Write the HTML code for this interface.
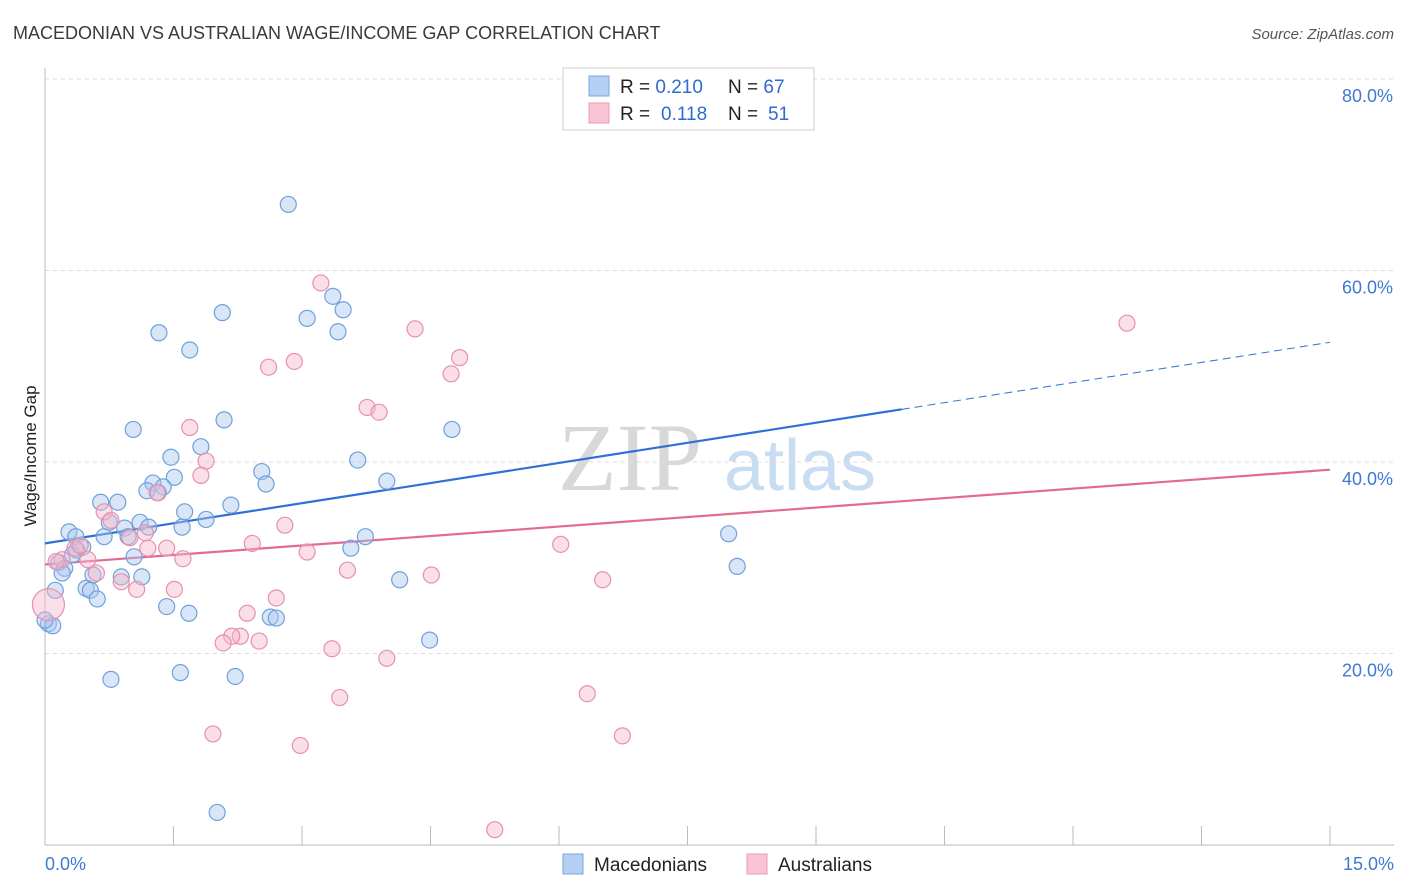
<!DOCTYPE html>
<html><head><meta charset="utf-8"><style>
body{margin:0;background:#fff;font-family:"Liberation Sans",sans-serif}
svg{display:block}
</style></head><body>
<svg id="chart" width="1406" height="892" xmlns="http://www.w3.org/2000/svg">
<text x="13" y="39" font-size="18" fill="#3a3a3a">MACEDONIAN VS AUSTRALIAN WAGE/INCOME GAP CORRELATION CHART</text>
<text x="1394" y="39" font-size="15" fill="#555" font-style="italic" text-anchor="end">Source: ZipAtlas.com</text>
<text x="36" y="456" font-size="17" fill="#222" text-anchor="middle" transform="rotate(-90 36 456)">Wage/Income Gap</text>
<g><text x="630" y="490" font-size="96" font-family="Liberation Serif,serif" fill="#d8d8d8" text-anchor="middle">ZIP</text><text x="800" y="490" font-size="72" fill="#c8dcf2" text-anchor="middle">atlas</text></g>
<g id="grid"></g><g id="axes"></g><g id="lines"></g><g id="pts"></g>
<g>
<rect x="563" y="68" width="251" height="62" fill="#fff" stroke="#ccc"/>
<rect x="589" y="76" width="20" height="20" fill="#b4d0f4" stroke="#7aa6de"/>
<rect x="589" y="103" width="20" height="20" fill="#f9c4d4" stroke="#eb9ab4"/>
<text x="620" y="93" font-size="19" fill="#222">R = <tspan fill="#2e6ad0">0.210</tspan><tspan x="728">N = </tspan><tspan fill="#2e6ad0">67</tspan></text>
<text x="620" y="120" font-size="19" fill="#222">R = <tspan x="661" fill="#2e6ad0">0.118</tspan><tspan x="728">N = </tspan><tspan x="768" fill="#2e6ad0">51</tspan></text>
</g>
<g>
<rect x="563" y="854" width="20" height="20" fill="#b4d0f4" stroke="#7aa6de"/>
<text x="594" y="871" font-size="19" fill="#222">Macedonians</text>
<rect x="747" y="854" width="20" height="20" fill="#f9c4d4" stroke="#eb9ab4"/>
<text x="778" y="871" font-size="19" fill="#222">Australians</text>
</g>
</svg>
<script>
const yTicks=[20,40,60,80];
const yTickLabels=["20.0%","40.0%","60.0%","80.0%"];
const xTickLabels=["0.0%","15.0%"];
const blueX=[2.84,3.36,3.48,3.06,3.42,2.07,1.33,1.69,2.09,1.03,1.82,4.75,1.47,3.65,2.53,3.99,2.58,1.26,1.51,1.38,1.19,1.32,0.65,0.85,2.17,1.63,1.88,1.11,1.60,1.21,0.75,0.93,0.28,0.36,0.69,0.97,0.44,0.37,0.32,3.74,3.57,1.04,0.16,0.23,0.20,0.89,1.13,0.56,4.14,8.08,7.98,0.48,0.53,0.12,0.61,1.42,1.68,2.63,2.70,4.49,0.04,0.09,0.77,1.58,2.22,2.01,0.0];
const blueY=[66.9,57.3,55.9,55.0,53.6,55.6,53.5,51.7,44.4,43.4,41.6,43.4,40.5,40.2,39.0,38.0,37.7,37.8,38.4,37.4,37.0,36.8,35.8,35.8,35.5,34.8,34.0,33.7,33.2,33.2,33.7,33.1,32.7,32.2,32.2,32.2,31.1,30.8,30.3,32.2,31.0,30.1,29.5,28.9,28.4,28.0,28.0,28.2,27.7,29.1,32.5,26.8,26.6,26.6,25.7,24.9,24.2,23.8,23.7,21.4,23.1,22.9,17.3,18.0,17.6,3.4,23.5];
const pinkX=[3.22,4.32,12.63,4.84,2.91,2.61,4.74,3.76,3.90,1.69,1.88,1.82,1.31,0.69,0.77,2.80,0.99,1.17,2.42,1.20,1.42,3.06,6.02,1.61,0.20,0.50,0.13,3.53,0.60,4.51,6.51,0.89,1.07,1.51,2.70,2.36,2.28,2.18,2.50,2.08,3.35,3.99,0.04,6.33,3.44,1.96,6.74,2.98,5.25,0.35,0.41];
const pinkY=[58.7,53.9,54.5,50.9,50.5,49.9,49.2,45.7,45.2,43.6,40.1,38.6,36.8,34.8,33.9,33.4,32.1,32.6,31.5,31.0,31.0,30.6,31.4,29.9,29.8,29.8,29.6,28.7,28.4,28.2,27.7,27.5,26.7,26.7,25.8,24.2,21.8,21.8,21.3,21.1,20.5,19.5,25.1,15.8,15.4,11.6,11.4,10.4,1.6,31.0,31.3];
const blueTrend=[31.5,52.5];
const pinkTrend=[29.3,39.2];
const blueSolidEnd=10.0;
const NS="http://www.w3.org/2000/svg";
const sx=v=>45+v/15*1285;
const sy=v=>845-v*9.575;
function mk(p,tag,attrs){const e=document.createElementNS(NS,tag);for(const k in attrs)e.setAttribute(k,attrs[k]);p.appendChild(e);return e;}
const grid=document.getElementById('grid'),axes=document.getElementById('axes'),lines=document.getElementById('lines'),pts=document.getElementById('pts');
yTicks.forEach((t,i)=>{
 const l=mk(grid,'line',{x1:45,x2:1394,y1:sy(t),y2:sy(t),stroke:'#ddd','stroke-dasharray':'4,4'});
 
 
 const tx=mk(axes,'text',{x:1393,y:sy(t)+23,'font-size':18,fill:'#3f78d4','text-anchor':'end'});
 tx.textContent=yTickLabels[i];
 
 
});
const ax=mk(axes,'line',{x1:45,x2:45,y1:68,y2:845,stroke:'#bbb'});


const bx=mk(axes,'line',{x1:45,x2:1394,y1:845,y2:845,stroke:'#bbb'});


for(let i=1;i<=10;i++){const t=mk(axes,'line',{x1:sx(i*1.5),x2:sx(i*1.5),y1:826,y2:845,stroke:'#bbb'});
 
 }
[[0,'start',45],[15,'end',1394]].forEach((d,i)=>{const t=mk(axes,'text',{x:d[2],y:870,'font-size':18,fill:'#3f78d4','text-anchor':d[1]});t.textContent=xTickLabels[i];
 
 });
function dot(x,y,fill,stroke,r,name){const c=mk(pts,'circle',{cx:sx(x),cy:sy(y),r:r,fill:fill,'fill-opacity':0.45,stroke:stroke,'stroke-width':1.2});
 
 }
blueX.forEach((x,i)=>dot(x,blueY[i],'#a9c8f0','#6fa0dc',8,'macedonian-point'));
pinkX.forEach((x,i)=>dot(x,pinkY[i],'#f5b8cb','#e890ac',(i===42?16:8),'australian-point'));
const bt=v=>blueTrend[0]+(blueTrend[1]-blueTrend[0])*v/15;
const pt=v=>pinkTrend[0]+(pinkTrend[1]-pinkTrend[0])*v/15;
const l1=mk(lines,'line',{x1:sx(0),y1:sy(bt(0)),x2:sx(blueSolidEnd),y2:sy(bt(blueSolidEnd)),stroke:'#2f6fd6','stroke-width':2.2});


const l2=mk(lines,'line',{x1:sx(blueSolidEnd),y1:sy(bt(blueSolidEnd)),x2:sx(15),y2:sy(bt(15)),stroke:'#2f6fd6','stroke-width':1,'stroke-dasharray':'8,5'});


const l3=mk(lines,'line',{x1:sx(0),y1:sy(pt(0)),x2:sx(15),y2:sy(pt(15)),stroke:'#e26a95','stroke-width':2.2});


</script>
</body></html>
